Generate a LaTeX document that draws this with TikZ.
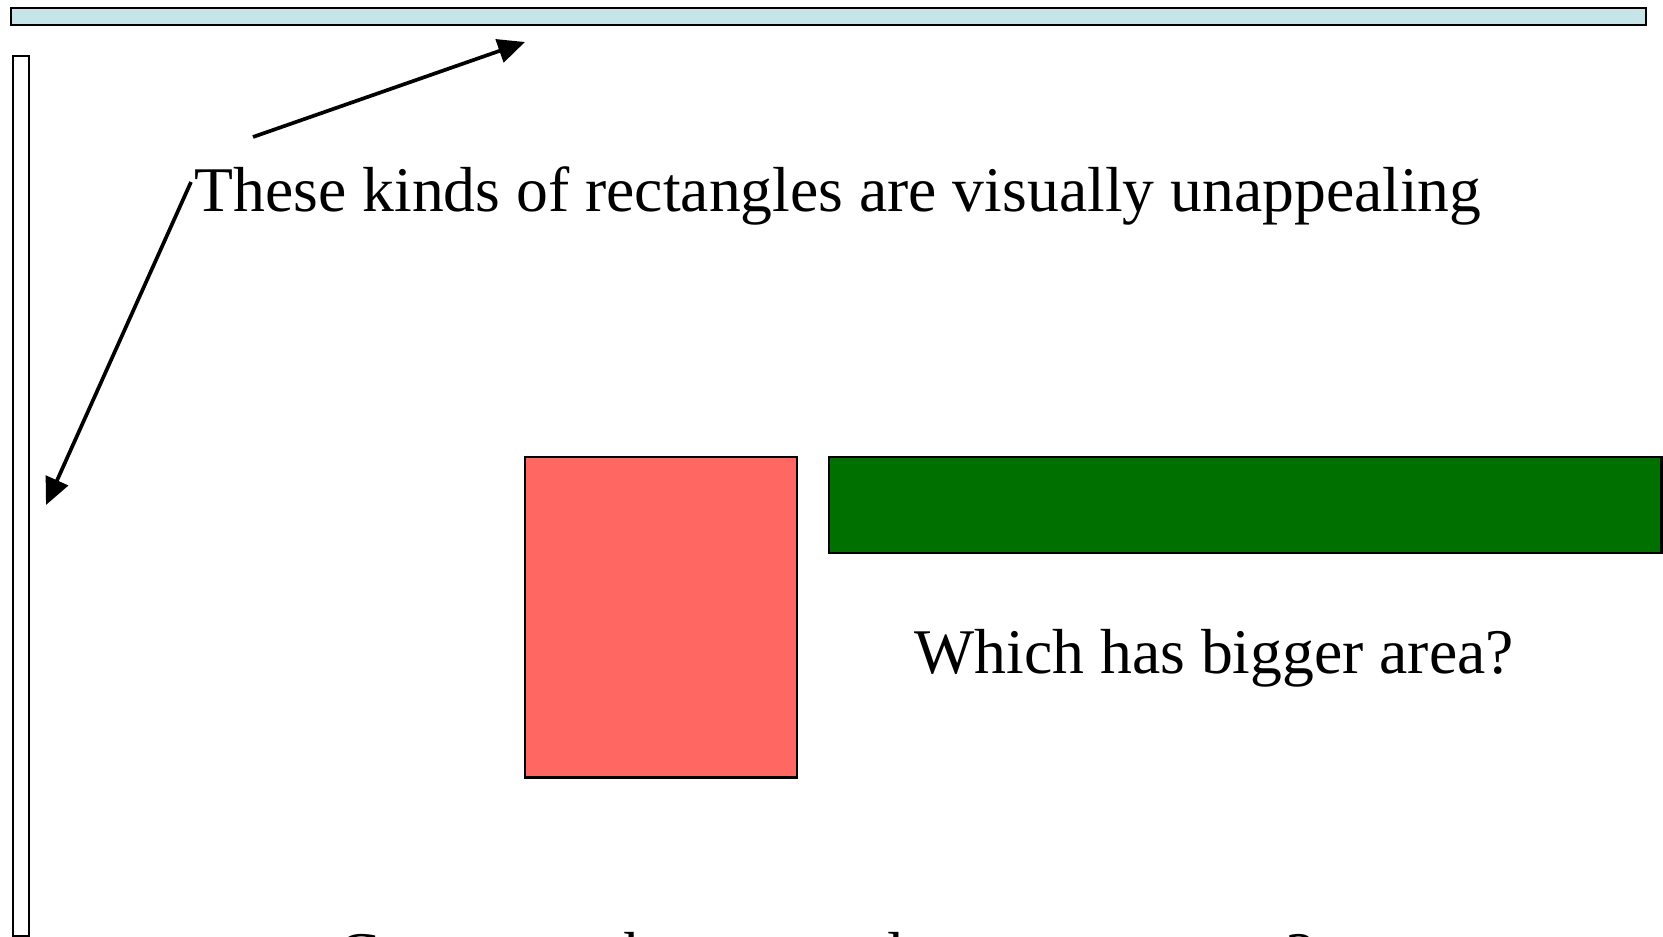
\documentclass[tikz,border=0pt]{standalone}
\usepackage{fontspec}
\setmainfont{Liberation Serif}
\usetikzlibrary{arrows.meta}

\definecolor{barblue}{RGB}{197,229,232}
\definecolor{boxred}{RGB}{255,104,98}
\definecolor{boxgreen}{RGB}{0,112,0}

\begin{document}
\begin{tikzpicture}[
  x=0.01cm, y=-0.01cm,
  font=\fontsize{18.1}{22}\selectfont,
  shp/.style={draw=black, line width=0.75pt, inner sep=0pt, outer sep=0pt,
              anchor=north west},
  ptr/.style={-{Triangle[length=0.27cm,width=0.24cm]}, line width=1.05pt},
  lbl/.style={inner sep=0pt, anchor=base west},
]
\useasboundingbox (0,0) rectangle (1663,937);
\clip (0,0) rectangle (1663,937);

% ---- thin bars ----
\node[shp, fill=barblue, minimum width=16.34cm, minimum height=0.17cm] (topbar) at (11,8) {};
\node[shp, fill=white, minimum width=0.16cm, minimum height=8.8cm] (sidebar) at (13,56) {};

% ---- area comparison ----
\node[shp, fill=boxred, minimum width=2.72cm, minimum height=3.2cm] (redbox) at (525,457) {};
\node[shp, fill=boxgreen, minimum width=8.32cm, minimum height=0.96cm] (greenbox) at (829,457) {};

% ---- texts ----
\node[lbl] (note) at (194,212) {These kinds of rectangles are visually unappealing};
\node[lbl] (ask) at (914,674) {Which has bigger area?};
\node[inner sep=0pt, anchor=base] (tail) at (826,976) {Can we make rectangles more square?};

% ---- pointers ----
\coordinate (p1) at (253,137);
\coordinate (q1) at (525,42);
\coordinate (p2) at (191,182);
\coordinate (q2) at (46,505);
\draw[ptr] (p1) -- (q1);
\draw[ptr] (p2) -- (q2);

\end{tikzpicture}
\end{document}
